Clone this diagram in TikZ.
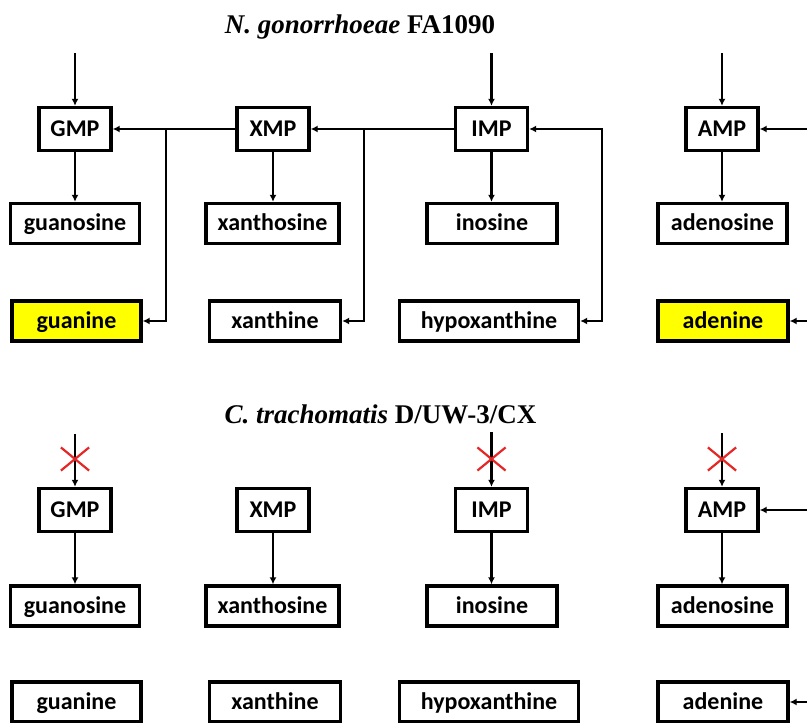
\documentclass[tikz,border=0pt]{standalone}
\usepackage{fontspec}
\setmainfont{Liberation Serif}
\newfontfamily\boxfont{Carlito}
\usetikzlibrary{arrows.meta,shapes.misc}
\definecolor{xred}{RGB}{228,38,38}
\definecolor{hiyellow}{RGB}{255,255,0}
\begin{document}
\begin{tikzpicture}[x=1pt,y=-1pt,
  box/.style={draw, line width=3.4pt, font={\boxfont\bfseries\fontsize{24}{28}\selectfont},
    text height=18pt, text depth=4pt, inner sep=0pt, minimum height=40pt},
  mpbox/.style={box, minimum width=72pt, minimum height=43pt},
  hi/.style={fill=hiyellow},
  conn/.style={line width=2.5pt, -{Latex[length=7pt,width=7pt]}},
  both/.style={line width=2.5pt, {Latex[length=7pt,width=7pt]}-{Latex[length=7pt,width=7pt]}},
  xmark/.style={cross out, draw=xred, line width=2.2pt, minimum width=26pt, minimum height=21pt, inner sep=0pt},
  ttl/.style={anchor=base, font=\fontsize{27}{32}\selectfont\bfseries, inner sep=0pt}]
\useasboundingbox (0,0) rectangle (807,723);

% ---------- top: N. gonorrhoeae ----------
\node[ttl] (t1) at (360,33) {\textit{N. gonorrhoeae} FA1090};

\node[mpbox] (gmp1) at (75,129) {GMP};
\node[mpbox] (xmp1) at (273,129) {XMP};
\node[mpbox] (imp1) at (491.5,129) {IMP};
\node[mpbox] (amp1) at (722,129) {AMP};

\node[box, minimum width=129pt] (guo1) at (75,223.5) {guanosine};
\node[box, minimum width=133pt] (xao1) at (272.5,223.5) {xanthosine};
\node[box, minimum width=130pt] (ino1) at (492,223.5) {inosine};
\node[box, minimum width=129pt] (ado1) at (722.5,223.5) {adenosine};

\node[box, hi, minimum width=129pt] (gua1) at (76.5,321) {guanine};
\node[box, minimum width=131pt] (xan1) at (275,321) {xanthine};
\node[box, minimum width=179pt] (hyp1) at (489,321) {hypoxanthine};
\node[box, hi, minimum width=130pt] (ade1) at (723,321) {adenine};

\coordinate (gin1) at (75,53);
\coordinate (iin1) at (491.5,53);
\coordinate (ain1) at (722,53);
\draw[conn] (gin1) -- (gmp1.north);
\draw[conn] (iin1) -- (imp1.north);
\draw[conn] (ain1) -- (amp1.north);

\draw[conn] (gmp1.south) -- (gmp1.south |- guo1.north);
\draw[conn] (xmp1.south) -- (xmp1.south |- xao1.north);
\draw[conn] (imp1.south) -- (imp1.south |- ino1.north);
\draw[conn] (amp1.south) -- (amp1.south |- ado1.north);

\draw[conn] (imp1.west) -- (xmp1.east);
\draw[conn] (xmp1.west) -- (gmp1.east);

\coordinate (bg1) at (166,129);
\coordinate (bx1) at (364,129);
\coordinate (bh1) at (602,321);
\draw[conn] (bg1) |- (gua1.east);
\draw[conn] (bx1) |- (xan1.east);
\draw[both] (imp1.east) -| (bh1) -- (hyp1.east);

\coordinate (ra1) at (812,129);
\coordinate (rd1) at (812,321);
\draw[conn] (ra1) -- (amp1.east);
\draw[conn] (rd1) -- (ade1.east);

% ---------- bottom: C. trachomatis ----------
\node[ttl] (t2) at (380.5,423) {\textit{C. trachomatis} D/UW-3/CX};

\node[mpbox] (gmp2) at (75,510) {GMP};
\node[mpbox] (xmp2) at (273,510) {XMP};
\node[mpbox] (imp2) at (491.5,510) {IMP};
\node[mpbox] (amp2) at (722,510) {AMP};

\node[box, minimum width=129pt] (guo2) at (75,606) {guanosine};
\node[box, minimum width=133pt] (xao2) at (272.5,606) {xanthosine};
\node[box, minimum width=130pt] (ino2) at (492,606) {inosine};
\node[box, minimum width=129pt] (ado2) at (722.5,606) {adenosine};

\node[box, minimum width=129pt] (gua2) at (76.5,702) {guanine};
\node[box, minimum width=131pt] (xan2) at (275,702) {xanthine};
\node[box, minimum width=179pt] (hyp2) at (489,702) {hypoxanthine};
\node[box, minimum width=130pt] (ade2) at (723,702) {adenine};

\coordinate (gin2) at (75,434);
\coordinate (iin2) at (491.5,432);
\coordinate (ain2) at (722,433);
\draw[conn] (gin2) -- (gmp2.north);
\draw[conn] (iin2) -- (imp2.north);
\draw[conn] (ain2) -- (amp2.north);

\node[xmark] (x1) at (75,459) {};
\node[xmark] (x2) at (491.5,459) {};
\node[xmark] (x3) at (722,459) {};

\draw[conn] (gmp2.south) -- (gmp2.south |- guo2.north);
\draw[conn] (xmp2.south) -- (xmp2.south |- xao2.north);
\draw[conn] (imp2.south) -- (imp2.south |- ino2.north);
\draw[conn] (amp2.south) -- (amp2.south |- ado2.north);

\coordinate (ra2) at (812,510);
\coordinate (rd2) at (812,702);
\draw[conn] (ra2) -- (amp2.east);
\draw[conn] (rd2) -- (ade2.east);
\end{tikzpicture}
\end{document}
